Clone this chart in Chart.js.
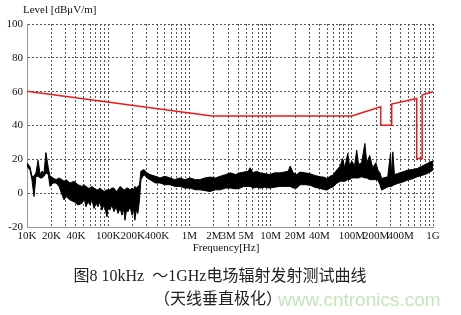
<!DOCTYPE html>
<html>
<head>
<meta charset="utf-8">
<script src="https://cdn.jsdelivr.net/npm/chart.js@4"></script>
<style>body{margin:0;background:#fff}</style>
</head>
<body>
<canvas id="emiChart" width="461" height="315"></canvas>
<script>
// Limit line (red), frequency in Hz, level in dBuV/m
const limitFreqs = [1e4, 1.9e6, 1e8, 227e6, 227e6, 310e6, 310e6, 630e6, 630e6, 735e6, 735e6, 1e9];
const limitLevels = [60.2, 45.6, 45.6, 51, 40.2, 40.2, 52.7, 56, 20.5, 20.5, 58, 60];

// Measured trace, read as upper / lower edge of the black band
const traceFreqs = [
  10000, 10900, 11500, 12200, 12900, 13700, 14500, 15300, 16200, 17100,
  18300, 19200, 20900, 22800, 24800, 27000, 28600, 30300, 33800, 37900,
  42500, 47600, 50500, 53300, 56500, 59700, 63000, 66900, 71000, 75000,
  79000, 83600, 89000, 96700, 100000, 105000, 111000, 118000, 125000, 132000,
  140000, 148000, 155000, 161000, 168000, 175000, 186000, 197000, 205000, 213000,
  222000, 232000, 243000, 253000, 276000, 300000, 327000, 380000, 434000, 500000,
  577000, 660000, 765000, 880000, 1.02e6, 1.18e6, 1.35e6, 1.55e6, 1.8e6, 2.1e6,
  2.4e6, 2.8e6, 3.2e6, 3.7e6, 4.2e6, 4.7e6, 5.3e6, 5.6e6, 6.1e6, 6.7e6,
  7.4e6, 8.5e6, 9.8e6, 11.2e6, 13e6, 14.8e6, 16.5e6, 17.4e6, 19e6, 21e6,
  23e6, 26.5e6, 30.6e6, 35e6, 40.6e6, 45e6, 49.5e6, 54e6, 58.7e6, 66e6,
  72e6, 77e6, 82e6, 89e6, 94e6, 100e6, 108e6, 115e6, 121e6, 132e6,
  145e6, 153e6, 166e6, 181e6, 198e6, 210e6, 222e6, 233e6, 277e6, 300e6,
  310e6, 320e6, 335e6, 366e6, 420e6, 485e6, 560e6, 640e6, 735e6, 850e6,
  1e9
];
const traceUpper = [
  18, 15.5, 10, 10, 12, 19.5, 11, 13, 12, 24,
  15, 10, 9, 8, 9, 8, 7, 8, 6, 7,
  5, 4, 5, 4, 3, 3, 4, 3, 2, 2,
  3, 2, 1, 2, 2, 2, 3, 3, 1, 2,
  4, 3, 2, 2, 3, 3, 2, 3, 2, 4,
  3, 4, 5, 13, 14, 12, 11, 10, 9, 10,
  9, 8, 9, 8, 9, 8, 8, 9, 9.5, 9,
  10, 11, 12, 11, 12, 12.5, 13, 15, 12, 13,
  12, 11.5, 11, 12, 12, 12.5, 13, 16, 12, 11,
  12.5, 12, 11.5, 10.5, 9.7, 9.5, 8.7, 10, 10.7, 14,
  16, 20.5, 15, 23.5, 16, 19, 16, 25.4, 17, 18,
  29.4, 18, 22.3, 15, 18, 13.6, 12, 8.7, 9.7, 23.5,
  10, 24.4, 11, 11.6, 12.5, 13.6, 14, 14.6, 16, 17.6,
  19.1
];
const traceLower = [
  16, 13.5, 8, -2, 10, 10, 9, 9, 10, 12,
  11, 4, 6, 6, 4, -1, -4, -2, -4, -5,
  -7, -6, -3, -8, -5, -7, -4, -9, -6, -8,
  -5, -10, -7, -14, -8, -10, -7, -11, -8, -12,
  -9, -13, -9, -16, -10, -11, -8, -13, -9, -16,
  -10, -12, -4, 8, 11, 9, 8, 6, 6, 5,
  5, 4, 4, 3, 3, 2, 2, 1.5, 1, 2,
  2, 3, 3, 2.5, 3, 4, 4, 4, 3, 3.5,
  3, 3.5, 3, 3.5, 4, 4, 4, 4, 3, 3,
  5, 5, 4.7, 3.5, 2.8, 2.2, 1.8, 3, 3.7, 6,
  7, 7, 7, 8, 8, 9, 9, 9, 9, 9.7,
  9, 9, 8, 8, 8, 7.7, 5, 1.8, 3.7, 4,
  4, 4.5, 5, 5.7, 6.5, 7.7, 8.5, 9.7, 10.5, 11.6,
  13.6
];

// Axis labels
const labelFreqs = [1e4, 2e4, 4e4, 1e5, 2e5, 4e5, 1e6, 2e6, 3e6, 5e6, 1e7, 2e7, 4e7, 1e8, 2e8, 4e8, 1e9];
const labelTexts = ['10K', '20K', '40K', '100K', '200K', '400K', '1M', '2M', '3M', '5M', '10M', '20M', '40M', '100M', '200M', '400M', '1G'];
const levelTicks = [-20, 0, 20, 40, 60, 80, 100];

function toPoints(xs, ys) {
  return xs.map((x, i) => ({ x: x, y: ys[i] }));
}

// Extra texts: axis titles, caption
const textPlugin = {
  id: 'texts',
  afterDraw(chart) {
    const ctx = chart.ctx;
    ctx.save();
    ctx.textBaseline = 'middle';
    ctx.fillStyle = '#111';
    ctx.font = '11px "Liberation Serif"';
    ctx.textAlign = 'left';
    ctx.fillText('Level [dB\u03bcV/m]', 23, 10);
    ctx.textAlign = 'center';
    ctx.fillText('Frequency[Hz]', 226, 248);
    ctx.font = '16px "Liberation Serif", "Noto Sans CJK SC"';
    ctx.fillStyle = '#222';
    ctx.fillText('图8 10kHz  ～1GHz电场辐射发射测试曲线', 220, 277);
    ctx.fillText('（天线垂直极化）', 218, 300);
    ctx.font = '19px "Liberation Sans"';
    ctx.fillStyle = '#c4e6bc';
    ctx.textAlign = 'left';
    ctx.fillText('www.cntronics.com', 278, 301);
    ctx.restore();
  }
};

const ctx = document.getElementById('emiChart').getContext('2d');
const emiChart = new Chart(ctx, {
  type: 'line',
  data: {
    datasets: [
      {
        label: 'Limit',
        data: toPoints(limitFreqs, limitLevels),
        borderColor: '#f01818',
        borderWidth: 1.5,
        pointRadius: 0,
        fill: false
      },
      {
        label: 'Upper',
        data: toPoints(traceFreqs, traceUpper),
        borderColor: '#000',
        borderWidth: 1,
        pointRadius: 0,
        fill: false
      },
      {
        label: 'Lower',
        data: toPoints(traceFreqs, traceLower),
        borderColor: '#000',
        borderWidth: 1,
        pointRadius: 0,
        backgroundColor: '#000',
        fill: '-1'
      }
    ]
  },
  options: {
    responsive: false,
    animation: false,
    layout: { padding: { left: 0, right: 28, top: 24, bottom: 0 } },
    plugins: {
      legend: { display: false },
      tooltip: { enabled: false }
    },
    scales: {
      x: {
        type: 'logarithmic',
        min: 1e4,
        max: 1e9,
        afterBuildTicks: function (scale) {
          const ticks = [];
          for (let d = 1e4; d < 1e9; d *= 10) {
            for (let m = 1; m < 10; m++) ticks.push({ value: m * d });
          }
          ticks.push({ value: 1e9 });
          scale.ticks = ticks;
        },
        afterFit: function (scale) { scale.height = 88; },
        grid: { color: '#555', drawTicks: false },
        border: { display: true, color: '#999', width: 1, dash: [2, 2] },
        ticks: {
          autoSkip: false,
          maxRotation: 0,
          minRotation: 0,
          padding: 3,
          color: '#111',
          font: { family: 'Liberation Serif', size: 11 },
          callback: function (value) {
            const i = labelFreqs.findIndex(f => Math.abs(f - value) / f < 1e-6);
            return i >= 0 ? labelTexts[i] : '';
          }
        }
      },
      y: {
        min: -20,
        max: 100,
        afterBuildTicks: function (scale) {
          scale.ticks = levelTicks.map(v => ({ value: v }));
        },
        afterFit: function (scale) { scale.width = 27; },
        grid: { color: '#555', drawTicks: false },
        border: { display: true, color: '#999', width: 1, dash: [2, 2] },
        ticks: {
          padding: 4,
          color: '#111',
          font: { family: 'Liberation Serif', size: 11 }
        }
      }
    }
  },
  plugins: [textPlugin]
});
</script>
</body>
</html>
